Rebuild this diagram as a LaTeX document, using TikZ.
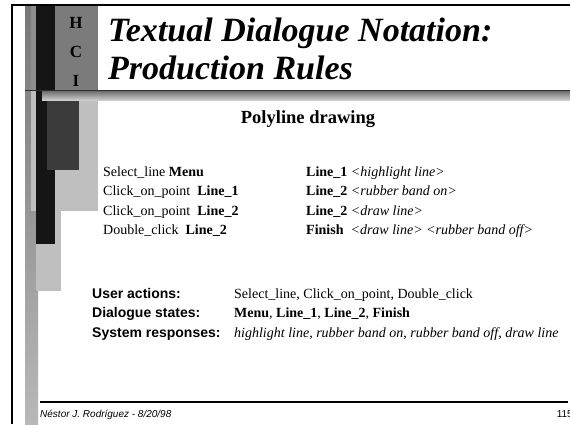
\documentclass[tikz,border=0pt]{standalone}
\usepackage{fontspec}
\setmainfont{Liberation Serif}
\setsansfont{Liberation Sans}
\definecolor{barTop}{HTML}{777777}
\definecolor{barBot}{HTML}{B8B8B8}
\definecolor{barMid}{HTML}{8E8E8E}
\definecolor{paleBar}{HTML}{BFBFBF}
\definecolor{inkBar}{HTML}{151515}
\definecolor{hciPanel}{HTML}{7B7B7B}
\definecolor{darkBox}{HTML}{3B3B3B}
\definecolor{ruleInk}{HTML}{2E2E2E}
\definecolor{bevelTop}{HTML}{6E6E6E}
\definecolor{bevelBot}{HTML}{CDCDCD}
\begin{document}
\begin{tikzpicture}[x=1pt,y=-1pt,
  txt/.style={inner sep=0pt, anchor=base west},
  hci/.style={inner sep=0pt, anchor=base, font=\fontsize{17}{17}\selectfont\bfseries},
  title/.style={txt, font=\fontsize{34}{34}\selectfont\bfseries\itshape},
  rule/.style={txt, font=\fontsize{14}{14}\selectfont},
  lab/.style={txt, font=\fontsize{14}{14}\selectfont\sffamily\bfseries},
  foot/.style={inner sep=0pt, font=\fontsize{10}{10}\selectfont\sffamily\itshape}]
\useasboundingbox (0,0) rectangle (570,424);
\fill[white] (0,0) rectangle (570,424);

% slide frame
\fill[black] (11,4) rectangle (13,424);
\fill[black] (11,4) rectangle (570,6);

% decorative bars on the left
\shade[top color=barTop, bottom color=barBot] (25,6) rectangle (38,424);
\fill[barMid] (31,6) rectangle (36,90);
\fill[paleBar] (31,91) rectangle (98,211);
\fill[paleBar] (36,211) rectangle (61,291);
\fill[inkBar] (36,6) rectangle (55,244);
\fill[hciPanel] (55,6) rectangle (98,90);
\fill[darkBox] (47,99) rectangle (79,170);

% title rule with bevel
\shade[top color=bevelTop, bottom color=bevelBot] (42,91) rectangle (570,100);
\fill[ruleInk] (25,89.8) rectangle (570,91.3);

% H C I letters
\node[hci] (h) at (76,28) {H};
\node[hci] (c) at (76,57) {C};
\node[hci] (i) at (76,86) {I};

% title
\node[title] (t1) at (108,41) {Textual Dialogue Notation:};
\node[title] (t2) at (108,79) {Production Rules};

% subtitle
\node[inner sep=0pt, anchor=base, font=\fontsize{18.5}{18.5}\selectfont\bfseries] (sub) at (308,123) {Polyline drawing};

% production rules
\node[rule] (l1) at (103,176) {Select\_line \textbf{Menu}};
\node[rule] (l2) at (103,195.5) {Click\_on\_point \ \textbf{Line\_1}};
\node[rule] (l3) at (103,215) {Click\_on\_point \ \textbf{Line\_2}};
\node[rule] (l4) at (103,234.5) {Double\_click \ \textbf{Line\_2}};
\node[rule] (r1) at (306,176) {\textbf{Line\_1} \textit{<highlight line>}};
\node[rule] (r2) at (306,195.5) {\textbf{Line\_2} \textit{<rubber band on>}};
\node[rule] (r3) at (306,215) {\textbf{Line\_2} \textit{<draw line>}};
\node[rule] (r4) at (306,234.5) {\textbf{Finish} \ \textit{<draw line>} \textit{<rubber band off>}};

% summary
\node[lab] (ua) at (92,298) {User actions:};
\node[lab] (ds) at (92,317.5) {Dialogue states:};
\node[lab] (sr) at (92,337) {System responses:};
\node[rule] (uav) at (234,298) {Select\_line, Click\_on\_point, Double\_click};
\node[rule] (dsv) at (234,317.5) {\textbf{Menu}, \textbf{Line\_1}, \textbf{Line\_2}, \textbf{Finish}};
\node[rule] (srv) at (234,337) {\textit{highlight line}, \textit{rubber band on}, \textit{rubber band off}, \textit{draw line}};

% footer
\fill[black] (40,401) rectangle (568,403);
\node[foot, anchor=base west] (author) at (40,417) {Néstor J. Rodríguez - 8/20/98};
\node[foot, anchor=base east, font=\fontsize{10}{10}\selectfont\sffamily] (page) at (573,417) {115};
\end{tikzpicture}
\end{document}
